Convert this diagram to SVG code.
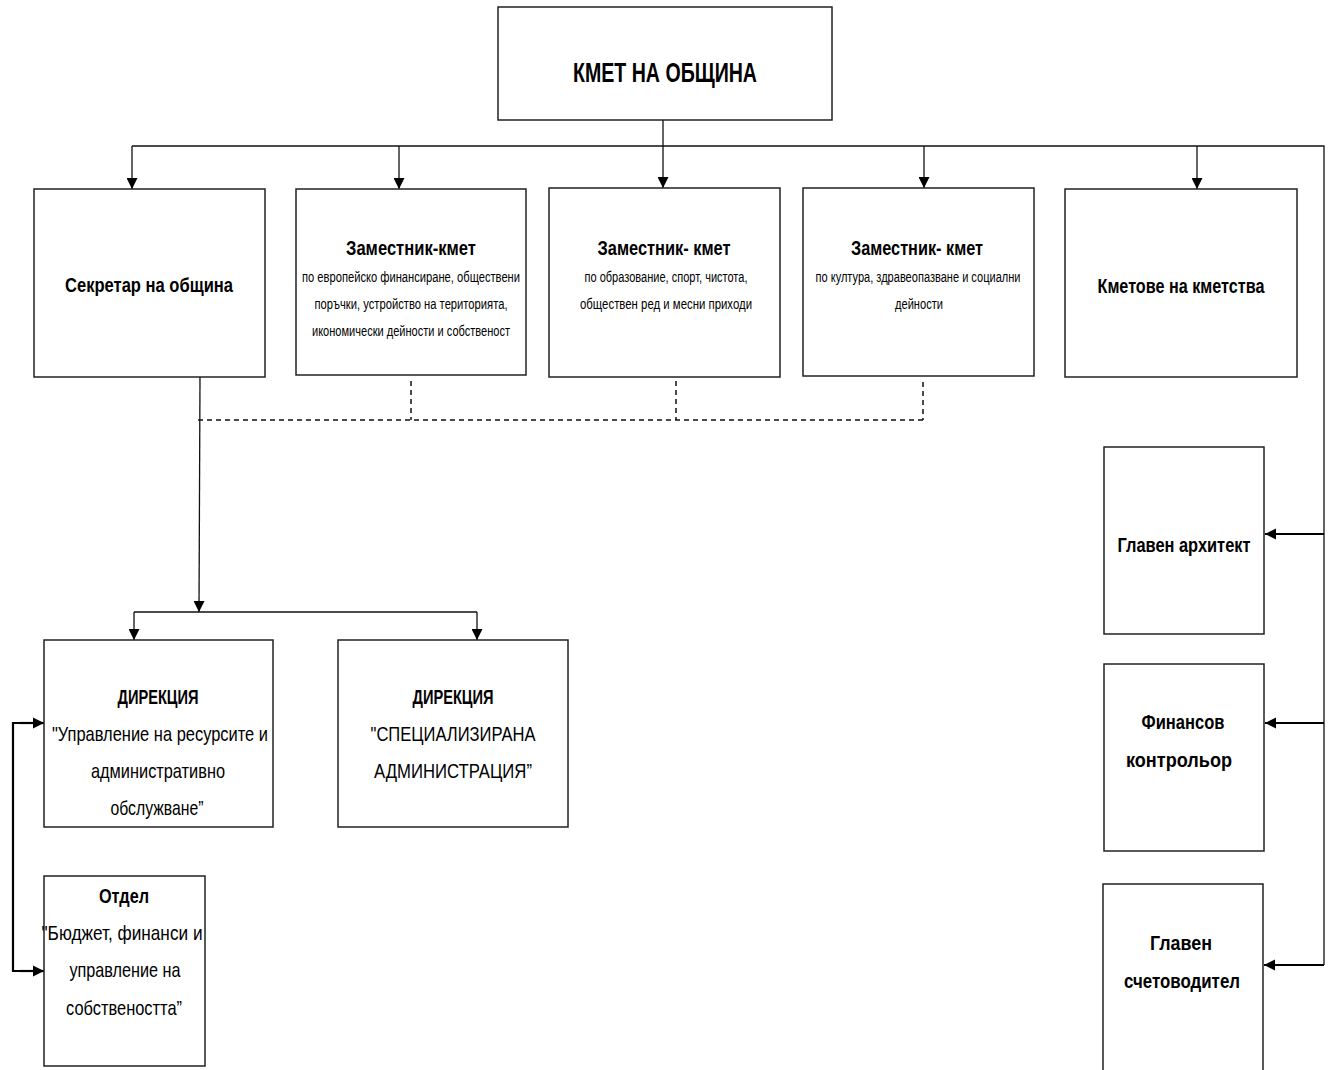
<svg xmlns="http://www.w3.org/2000/svg" width="1330" height="1070" viewBox="0 0 1330 1070">
<defs>
<style>
.box{fill:#fff;stroke:#222;stroke-width:1.5}
text{font-family:"Liberation Sans",Arial,sans-serif;fill:#000;text-anchor:middle}
.t1{font-size:28px;font-weight:bold}
.t2{font-size:20px;font-weight:bold}
.s{font-size:14px}
.r{font-size:21px}
.ln{fill:none;stroke:#111;stroke-width:1.3}
.th{fill:none;stroke:#000;stroke-width:2.2}
.dash{fill:none;stroke:#111;stroke-width:1.5;stroke-dasharray:5 4}
</style>
<marker id="ah" viewBox="0 0 10 10" refX="10" refY="5" markerWidth="16" markerHeight="11" markerUnits="userSpaceOnUse" orient="auto">
<path d="M0,0 L10,5 L0,10 z" fill="#000"/>
</marker>
<marker id="ah2" viewBox="0 0 10 10" refX="10" refY="5" markerWidth="11" markerHeight="13" markerUnits="userSpaceOnUse" orient="auto">
<path d="M0,0 L10,5 L0,10 z" fill="#000"/>
</marker>
</defs>
<rect width="1330" height="1070" fill="#fff"/>

<g id="connectors">
<path class="ln" d="M663,120 V146"/>
<path class="ln" d="M132,146 H1324 V965"/>
<path class="ln" d="M132,146 V189" marker-end="url(#ah)"/>
<path class="ln" d="M399,146 V189" marker-end="url(#ah)"/>
<path class="ln" d="M663,146 V188" marker-end="url(#ah)"/>
<path class="ln" d="M924,146 V188" marker-end="url(#ah)"/>
<path class="ln" d="M1197,146 V189" marker-end="url(#ah)"/>
<path class="th" d="M1324,534 H1265" marker-end="url(#ah2)"/>
<path class="th" d="M1324,723 H1265" marker-end="url(#ah2)"/>
<path class="th" d="M1324,965 H1264" marker-end="url(#ah2)"/>
<path class="dash" d="M198,420 H923"/>
<path class="dash" d="M411,381 V420"/>
<path class="dash" d="M676,381 V420"/>
<path class="dash" d="M923,382 V420"/>
<path class="ln" d="M200,377 L199,612" marker-end="url(#ah)"/>
<path class="ln" d="M134,612 H477"/>
<path class="ln" d="M134,612 V640" marker-end="url(#ah)"/>
<path class="ln" d="M477,612 V640" marker-end="url(#ah)"/>
<path class="th" d="M44,723 H13 V971 H44"/>
<path class="th" d="M20,723 H44" marker-end="url(#ah2)"/>
<path class="th" d="M20,971 H44" marker-end="url(#ah2)"/>
</g>

<g id="mayor">
<rect class="box" x="498" y="7" width="334" height="113"/>
<text class="t1" x="665" y="82" textLength="184" lengthAdjust="spacingAndGlyphs">КМЕТ НА ОБЩИНА</text>
</g>

<g id="secretary">
<rect class="box" x="34" y="189" width="231" height="188"/>
<text class="t2" x="149" y="292" textLength="168" lengthAdjust="spacingAndGlyphs">Секретар на община</text>
</g>

<g id="deputy1">
<rect class="box" x="296" y="189" width="230" height="186"/>
<text class="t2" x="411" y="255" textLength="130" lengthAdjust="spacingAndGlyphs">Заместник-кмет</text>
<text class="s" x="411" y="282" textLength="218" lengthAdjust="spacingAndGlyphs">по европейско финансиране, обществени</text>
<text class="s" x="411" y="309" textLength="193" lengthAdjust="spacingAndGlyphs">поръчки, устройство на територията,</text>
<text class="s" x="411" y="336" textLength="198" lengthAdjust="spacingAndGlyphs">икономически дейности и собственост</text>
</g>

<g id="deputy2">
<rect class="box" x="549" y="188" width="231" height="189"/>
<text class="t2" x="664" y="255" textLength="133" lengthAdjust="spacingAndGlyphs">Заместник- кмет</text>
<text class="s" x="666" y="282" textLength="163" lengthAdjust="spacingAndGlyphs">по образование, спорт, чистота,</text>
<text class="s" x="666" y="309" textLength="172" lengthAdjust="spacingAndGlyphs">обществен ред и месни приходи</text>
</g>

<g id="deputy3">
<rect class="box" x="803" y="188" width="231" height="188"/>
<text class="t2" x="917" y="255" textLength="132" lengthAdjust="spacingAndGlyphs">Заместник- кмет</text>
<text class="s" x="918" y="282" textLength="205" lengthAdjust="spacingAndGlyphs">по култура, здравеопазване и социални</text>
<text class="s" x="919" y="309" textLength="48" lengthAdjust="spacingAndGlyphs">дейности</text>
</g>

<g id="village-mayors">
<rect class="box" x="1065" y="189" width="232" height="188"/>
<text class="t2" x="1181" y="293" textLength="167" lengthAdjust="spacingAndGlyphs">Кметове на кметства</text>
</g>

<g id="chief-architect">
<rect class="box" x="1104" y="447" width="160" height="187"/>
<text class="t2" x="1184" y="552" textLength="133" lengthAdjust="spacingAndGlyphs">Главен архитект</text>
</g>

<g id="financial-controller">
<rect class="box" x="1104" y="664" width="160" height="187"/>
<text class="t2" x="1183" y="729" textLength="83" lengthAdjust="spacingAndGlyphs">Финансов</text>
<text class="t2" x="1179" y="767" textLength="106" lengthAdjust="spacingAndGlyphs">контрольор</text>
</g>

<g id="chief-accountant">
<rect class="box" x="1103" y="884" width="160" height="200"/>
<text class="t2" x="1181" y="950" textLength="62" lengthAdjust="spacingAndGlyphs">Главен</text>
<text class="t2" x="1182" y="988" textLength="116" lengthAdjust="spacingAndGlyphs">счетоводител</text>
</g>

<g id="directorate1">
<rect class="box" x="44" y="640" width="229" height="187"/>
<text class="t2" x="158" y="704" textLength="81" lengthAdjust="spacingAndGlyphs">ДИРЕКЦИЯ</text>
<text class="r" x="160" y="741" textLength="216" lengthAdjust="spacingAndGlyphs">"Управление на ресурсите и</text>
<text class="r" x="158" y="778" textLength="134" lengthAdjust="spacingAndGlyphs">административно</text>
<text class="r" x="157" y="815" textLength="93" lengthAdjust="spacingAndGlyphs">обслужване”</text>
</g>

<g id="directorate2">
<rect class="box" x="338" y="640" width="230" height="187"/>
<text class="t2" x="453" y="704" textLength="81" lengthAdjust="spacingAndGlyphs">ДИРЕКЦИЯ</text>
<text class="r" x="453" y="741" textLength="165" lengthAdjust="spacingAndGlyphs">"СПЕЦИАЛИЗИРАНА</text>
<text class="r" x="453" y="778" textLength="158" lengthAdjust="spacingAndGlyphs">АДМИНИСТРАЦИЯ”</text>
</g>

<g id="department">
<rect class="box" x="44" y="876" width="161" height="190"/>
<text class="t2" x="124" y="903" textLength="50" lengthAdjust="spacingAndGlyphs">Отдел</text>
<text class="r" x="122" y="940" textLength="161" lengthAdjust="spacingAndGlyphs">"Бюджет, финанси и</text>
<text class="r" x="125" y="977" textLength="111" lengthAdjust="spacingAndGlyphs">управление на</text>
<text class="r" x="124" y="1015" textLength="116" lengthAdjust="spacingAndGlyphs">собствеността”</text>
</g>
</svg>
